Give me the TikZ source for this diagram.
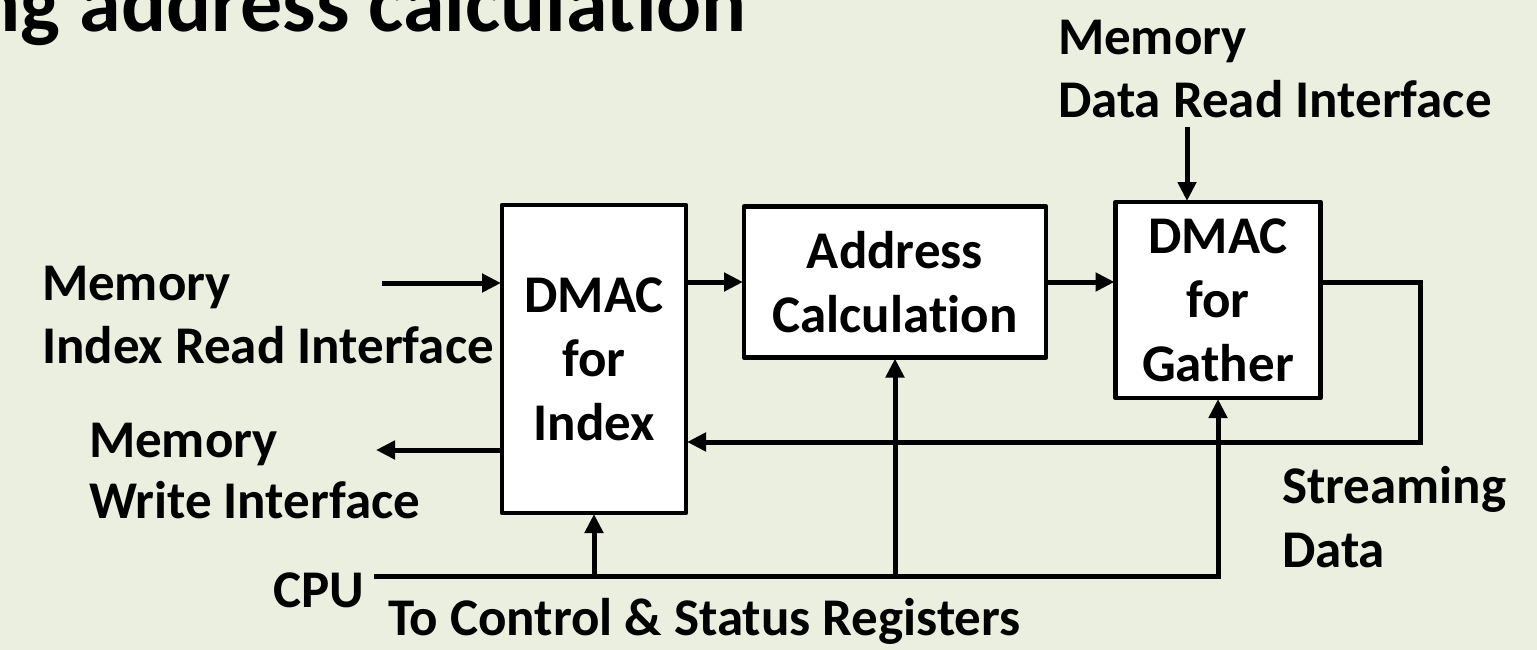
\documentclass[tikz,border=0pt]{standalone}
\usepackage{fontspec}
\setmainfont{Carlito}[Ligatures=NoCommon]
\usetikzlibrary{arrows.meta}
\definecolor{slidebg}{RGB}{235,239,224}
\begin{document}
\begin{tikzpicture}[x=1pt,y=-1pt,
  lbl/.style={anchor=base west, inner sep=0, outer sep=0,
    font=\fontsize{53}{63}\selectfont\bfseries},
  blk/.style={draw, line width=4.5pt, fill=white, inner sep=0, outer sep=0,
    align=center, line join=round,
    font=\fontsize{53}{64}\selectfont\bfseries},
  wire/.style={line width=5pt},
  arr/.style={wire, -{Triangle[length=19pt,width=18pt]}, shorten >=1pt}]
% slide background and page frame
\fill[slidebg] (0,0) rectangle (1537,650);
\clip (0,0) rectangle (1537,650);

% heading
\node[anchor=base east, inner sep=0, font=\fontsize{84}{90}\selectfont\bfseries]
  (title) at (747,32) {ng address calculation};

% processing blocks
\node[blk, minimum width=184pt, minimum height=308pt] (idx) at (594,359) {DMAC\\for\\Index};
\node[blk, minimum width=302pt, minimum height=151pt] (addr) at (895,282) {Address\\Calculation};
\node[blk, minimum width=205pt, minimum height=196pt] (gat) at (1218,300) {DMAC\\for\\Gather};

% interface labels
\node[lbl] (memIdxA) at (42,300) {Memory};
\node[lbl] (memIdxB) at (42,363) {Index Read Interface};
\node[lbl] (memWrA) at (89,457) {Memory};
\node[lbl] (memWrB) at (89,518) {Write Interface};
\node[lbl] (memDatA) at (1058,55) {Memory};
\node[lbl] (memDatB) at (1058,118) {Data Read Interface};
\node[lbl] (cpu) at (273,607) {CPU};
\node[lbl] (csr) at (388,635) {To Control \& Status Registers};
\node[lbl] (strA) at (1282,503) {Streaming};
\node[lbl] (strB) at (1282,567) {Data};

% free wire ends
\coordinate (idxIn) at (382,283);
\coordinate (wrOut) at (375,450);
\coordinate (memData) at (1187,127);
\coordinate (fbTop) at (1420,282);
\coordinate (fbBot) at (1420,442);
\coordinate (cpuL) at (374,576);

% data path
\draw[arr] (idxIn) -- (idxIn -| idx.west);
\draw[arr] (idx.west |- wrOut) -- (wrOut);
\draw[arr] (idx.east |- addr.west) -- (addr.west);
\draw[arr] (addr.east) -- (addr.east -| gat.west);
\draw[arr] (memData) -- (memData |- gat.north);
\draw[arr] (gat.east |- fbTop) -- (fbTop) -- (fbBot) -- (fbBot -| idx.east);

% CPU control bus
\draw[arr] (cpuL) -- (cpuL -| gat.south) -- (gat.south);
\draw[arr] (cpuL -| idx.south) -- (idx.south);
\draw[arr] (cpuL -| addr.south) -- (addr.south);
\end{tikzpicture}
\end{document}
